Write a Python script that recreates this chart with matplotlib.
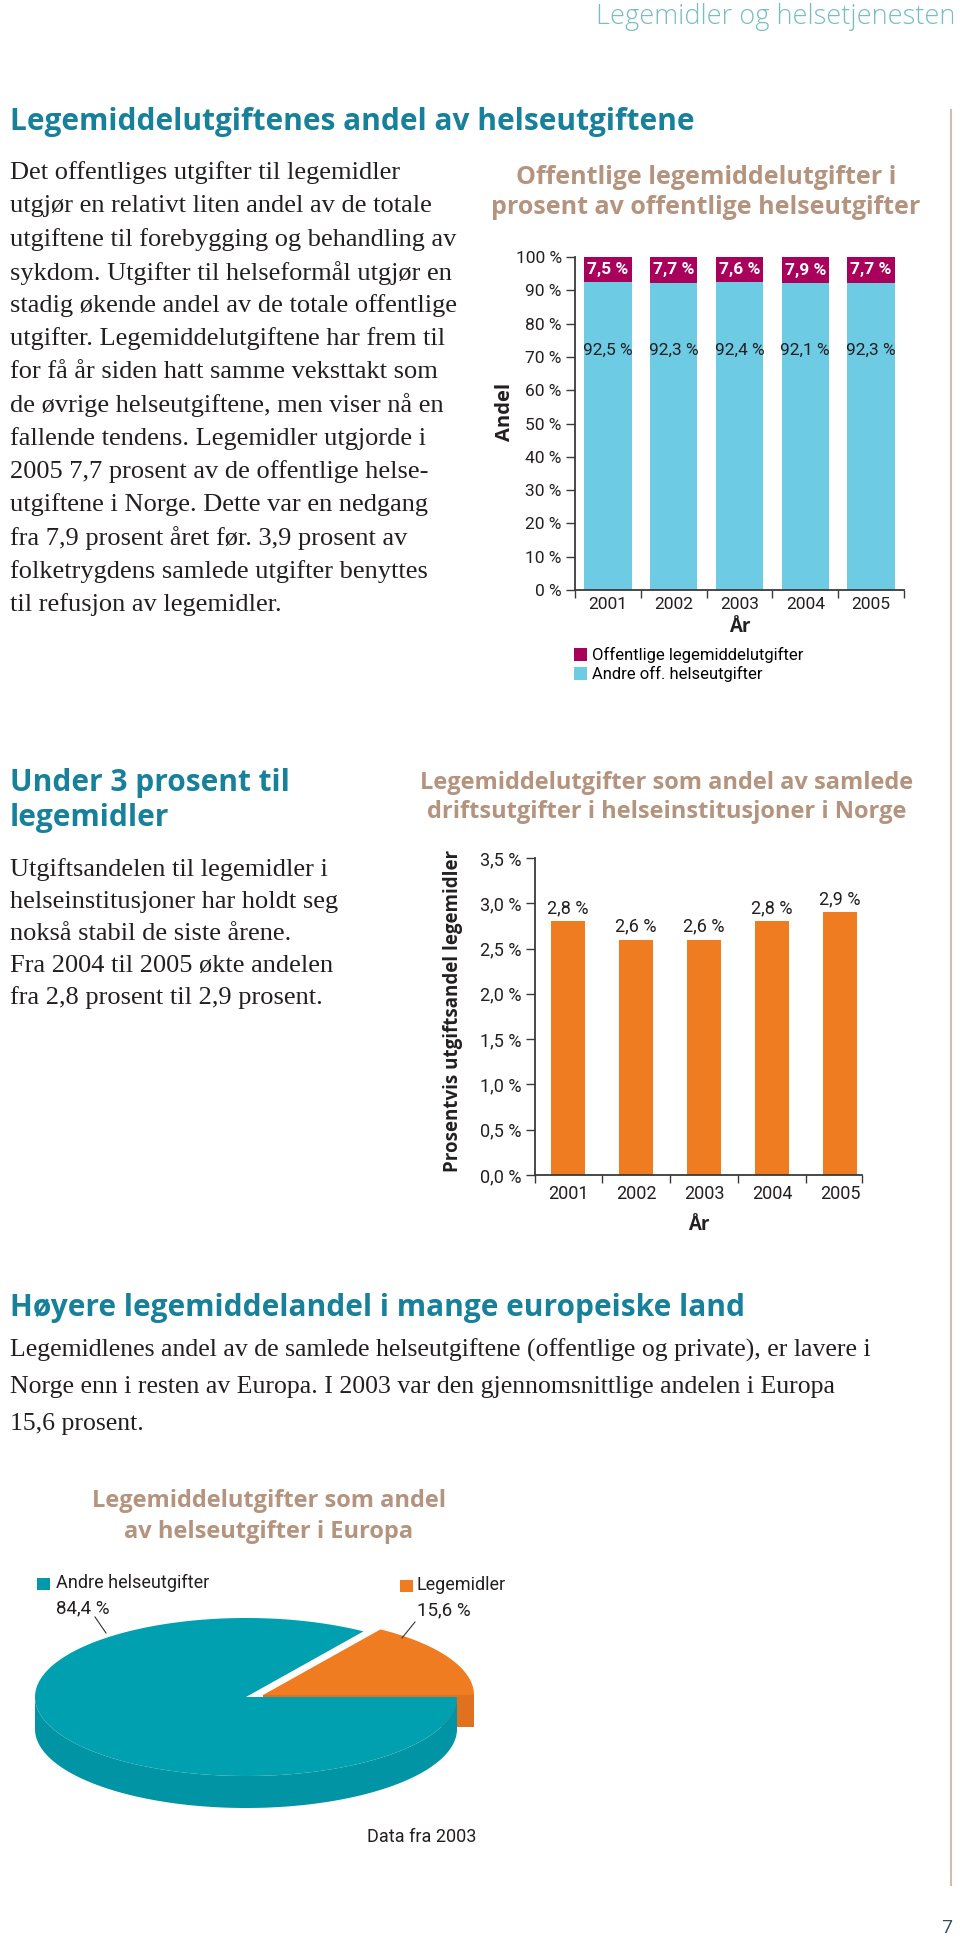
import numpy as np
import matplotlib.pyplot as plt
from matplotlib.patches import Polygon, Rectangle
from matplotlib.lines import Line2D

W, H = 960, 1945

# data
years = ['2001', '2002', '2003', '2004', '2005']
off_legemidler = [7.5, 7.7, 7.6, 7.9, 7.7]
off_andre = [92.5, 92.3, 92.4, 92.1, 92.3]
inst_legemidler = [2.8, 2.6, 2.6, 2.8, 2.9]
europa_navn = ['Andre helseutgifter', 'Legemidler']
europa_andel = [84.4, 15.6]

par1 = [
    'Det offentliges utgifter til legemidler',
    'utgjør en relativt liten andel av de totale',
    'utgiftene til forebygging og behandling av',
    'sykdom. Utgifter til helseformål utgjør en',
    'stadig økende andel av de totale offentlige',
    'utgifter. Legemiddelutgiftene har frem til',
    'for få år siden hatt samme veksttakt som',
    'de øvrige helseutgiftene, men viser nå en',
    'fallende tendens. Legemidler utgjorde i',
    '2005 7,7 prosent av de offentlige helse-',
    'utgiftene i Norge. Dette var en nedgang',
    'fra 7,9 prosent året før. 3,9 prosent av',
    'folketrygdens samlede utgifter benyttes',
    'til refusjon av legemidler.',
]
par2 = [
    'Utgiftsandelen til legemidler i',
    'helseinstitusjoner har holdt seg',
    'nokså stabil de siste årene.',
    'Fra 2004 til 2005 økte andelen',
    'fra 2,8 prosent til 2,9 prosent.',
]
par3 = [
    'Legemidlenes andel av de samlede helseutgiftene (offentlige og private), er lavere i',
    'Norge enn i resten av Europa. I 2003 var den gjennomsnittlige andelen i Europa',
    '15,6 prosent.',
]

TEAL_HEAD = '#17809a'
TAN = '#b4947f'
PINK = '#a8005b'
BLUE = '#6dcbe3'
ORANGE = '#f07c22'
PIE_TEAL = '#00a0b0'
TXT = '#231f20'
AXC = '#3a3a3a'

SERIF = ['Liberation Serif', 'DejaVu Serif']
SANS = ['Open Sans', 'DejaVu Sans']
NARROW = ['Roboto', 'DejaVu Sans']


def fx(x):
    return x / W


def fy(y):
    return 1 - y / H


def pct(v):
    return f'{v:.1f} %'.replace('.', ',')


fig = plt.figure(figsize=(W / 100, H / 100), dpi=100)


def put(x, y, s, **kw):
    kw.setdefault('va', 'center')
    fig.text(fx(x), fy(y), s, **kw)


def axes_px(left, top, right, bottom):
    return fig.add_axes([fx(left), fy(bottom), (right - left) / W, (bottom - top) / H])


# page furniture
put(955, 17, 'Legemidler og helsetjenesten', ha='right', color='#79bcc4',
    fontsize=19.5, family=SANS, fontweight='light')
put(10, 122, 'Legemiddelutgiftenes andel av helseutgiftene', color=TEAL_HEAD,
    fontsize=21.5, family=SANS, fontweight='bold')
fig.add_artist(Line2D([fx(951)] * 2, [fy(110), fy(1885)], color='#cdbfb3', lw=1.5))
put(947, 1928, '7', ha='center', color='#2f4f5a', fontsize=14, family=SANS)

for i, line in enumerate(par1):
    put(10, 173 + i * 33.2, line, fontsize=19, family=SERIF, color=TXT)

put(10, 783, 'Under 3 prosent til', color=TEAL_HEAD, fontsize=21.5, family=SANS, fontweight='bold')
put(10, 818, 'legemidler', color=TEAL_HEAD, fontsize=21.5, family=SANS, fontweight='bold')
for i, line in enumerate(par2):
    put(10, 870 + i * 32, line, fontsize=19, family=SERIF, color=TXT)

put(10, 1308, 'Høyere legemiddelandel i mange europeiske land', color=TEAL_HEAD,
    fontsize=21.5, family=SANS, fontweight='bold')
for i, line in enumerate(par3):
    put(10, 1350 + i * 37, line, fontsize=18.5, family=SERIF, color=TXT)


def style_axes(ax, size):
    for s in ['top', 'right']:
        ax.spines[s].set_visible(False)
    for s in ['left', 'bottom']:
        ax.spines[s].set_color(AXC)
        ax.spines[s].set_linewidth(1.3)
    ax.tick_params(axis='y', direction='out', length=6.5, width=1, colors=AXC, pad=3)
    ax.tick_params(axis='x', which='major', length=0, colors=TXT)
    ax.tick_params(axis='x', which='minor', direction='out', length=6, width=1, colors=AXC)
    for lbl in ax.get_yticklabels() + ax.get_xticklabels():
        lbl.set_family(NARROW)
        lbl.set_fontsize(size)
        lbl.set_color(TXT)


# chart 1: stacked bars
put(706, 178, 'Offentlige legemiddelutgifter i', ha='center', color=TAN,
    fontsize=18, family=SANS, fontweight='bold')
put(706, 208, 'prosent av offentlige helseutgifter', ha='center', color=TAN,
    fontsize=18, family=SANS, fontweight='bold')

ax1 = axes_px(575, 257, 904, 590)
x = np.arange(len(years))
b_andre = ax1.bar(x, off_andre, width=0.72, color=BLUE)
b_leg = ax1.bar(x, off_legemidler, bottom=off_andre, width=0.72, color=PINK)
ax1.set_xlim(-0.5, len(years) - 0.5)
ax1.set_ylim(0, 100)
ax1.set_yticks(np.arange(0, 101, 10))
ax1.set_yticklabels([f'{v} %' for v in range(0, 101, 10)])
ax1.set_xticks(x)
ax1.set_xticklabels(years)
ax1.set_xticks(np.arange(-0.5, len(years), 1), minor=True)
style_axes(ax1, 12.5)
ax1.tick_params(axis='x', which='major', pad=5)
for i in range(len(years)):
    ax1.text(i, off_andre[i] + off_legemidler[i] / 2, pct(off_legemidler[i]), ha='center',
             va='center', color='white', fontweight='bold', fontsize=12.5, family=NARROW)
    ax1.text(i, 72, pct(off_andre[i]), ha='center', va='center', color=TXT,
             fontsize=12.5, family=NARROW)
ax1.text(-0.213, 0.535, 'Andel', transform=ax1.transAxes, rotation=90, ha='center',
         va='center', fontsize=14.5, fontweight='bold', family=SANS, color=TXT)
ax1.text(0.5, (590 - 627) / 333, 'År', transform=ax1.transAxes, ha='center', va='center',
         fontsize=13.5, fontweight='bold', family=SANS, color=TXT)
ax1.legend([b_leg, b_andre], ['Offentlige legemiddelutgifter', 'Andre off. helseutgifter'],
           loc='upper left', bbox_to_anchor=(fx(574), fy(647)), bbox_transform=fig.transFigure,
           frameon=False, handlelength=0.8, handleheight=0.8, handletextpad=0.3,
           labelspacing=0.2, borderpad=0, borderaxespad=0,
           prop=dict(family=NARROW, size=12))

# chart 2: institutions
put(667, 783, 'Legemiddelutgifter som andel av samlede', ha='center', color=TAN,
    fontsize=17, family=SANS, fontweight='bold')
put(667, 812, 'driftsutgifter i helseinstitusjoner i Norge', ha='center', color=TAN,
    fontsize=17, family=SANS, fontweight='bold')

ax2 = axes_px(535, 858, 862, 1175)
ax2.bar(x, inst_legemidler, width=0.5, color=ORANGE)
ax2.set_xlim(-0.485, 4.32)
ax2.set_ylim(0, 3.5)
yt = np.arange(0, 3.51, 0.5)
ax2.set_yticks(yt)
ax2.set_yticklabels([pct(v) for v in yt])
ax2.set_xticks(x)
ax2.set_xticklabels(years)
lo, hi = ax2.get_xlim()
ax2.set_xticks([lo] + list(np.arange(0.5, len(years) - 1, 1)) + [hi], minor=True)
style_axes(ax2, 13)
ax2.tick_params(axis='x', which='major', pad=7)
for i, v in enumerate(inst_legemidler):
    ax2.annotate(pct(v), (i, v), xytext=(0, 9.5), textcoords='offset points', ha='center',
                 va='center', fontsize=13, family=NARROW, color=TXT)
ax2.text(-0.251, 0.517, 'Prosentvis utgiftsandel legemidler', transform=ax2.transAxes,
         rotation=90, ha='center', va='center', fontsize=13.5, fontweight='bold',
         family=SANS, color=TXT)
ax2.text(0.5, (1175 - 1225) / 317, 'År', transform=ax2.transAxes, ha='center', va='center',
         fontsize=13.5, fontweight='bold', family=SANS, color=TXT)

# chart 3: 3D-looking pie
put(269, 1501, 'Legemiddelutgifter som andel', ha='center', color=TAN,
    fontsize=17, family=SANS, fontweight='bold')
put(269, 1532, 'av helseutgifter i Europa', ha='center', color=TAN,
    fontsize=17, family=SANS, fontweight='bold')

axp = axes_px(0, 1560, 480, 1900)
axp.set_xlim(0, 480)
axp.set_ylim(1900, 1560)
axp.axis('off')

cx, cy, a, b, h = 246, 1697, 211, 79, 32
dx, dy = 17, -2
frac = np.array(europa_andel) / sum(europa_andel)
t_leg = frac[1] * 2 * np.pi


def rim(t0, t1, ox=0, oy=0, n=200):
    t = np.linspace(t0, t1, n)
    return np.column_stack([cx + ox + a * np.cos(t), cy + oy - b * np.sin(t)])


# exploded orange slice
face_o = [(cx + dx, cy + dy), (cx + dx + a, cy + dy), (cx + dx + a, cy + dy + h),
          (cx + dx, cy + dy + h)]
axp.add_patch(Polygon(face_o, closed=True, color='#e0721f', lw=0, zorder=2))
top_o = np.vstack([[cx + dx, cy + dy], rim(0, t_leg, dx, dy)])
axp.add_patch(Polygon(top_o, closed=True, color=ORANGE, lw=0, zorder=3))
# teal side and top
edge = rim(np.pi, 2 * np.pi)
side = np.vstack([edge, edge[::-1] + [0, h]])
axp.add_patch(Polygon(side, closed=True, color='#0094a4', lw=0, zorder=4))
top_t = np.vstack([[cx, cy], rim(t_leg, 2 * np.pi)])
axp.add_patch(Polygon(top_t, closed=True, color=PIE_TEAL, lw=0, zorder=5))

# callout labels
axp.plot([95, 106], [1617, 1633], color='#333333', lw=0.8, zorder=6)
axp.plot([415, 402], [1622, 1638], color='#333333', lw=0.8, zorder=6)
axp.add_patch(Rectangle((37, 1578), 13, 12, color='#0098aa', lw=0))
axp.add_patch(Rectangle((400, 1580), 13, 12, color=ORANGE, lw=0))
axp.text(56, 1583, europa_navn[0], va='center', fontsize=13, family=NARROW, color=TXT)
axp.text(56, 1608, pct(europa_andel[0]), va='center', fontsize=13.5, family=NARROW, color=TXT)
axp.text(417, 1585, europa_navn[1], va='center', fontsize=13, family=NARROW, color=TXT)
axp.text(417, 1610, pct(europa_andel[1]), va='center', fontsize=13.5, family=NARROW, color=TXT)
put(422, 1837, 'Data fra 2003', ha='center', fontsize=13, family=NARROW, color=TXT)

fig.savefig('out.png', dpi=100)
